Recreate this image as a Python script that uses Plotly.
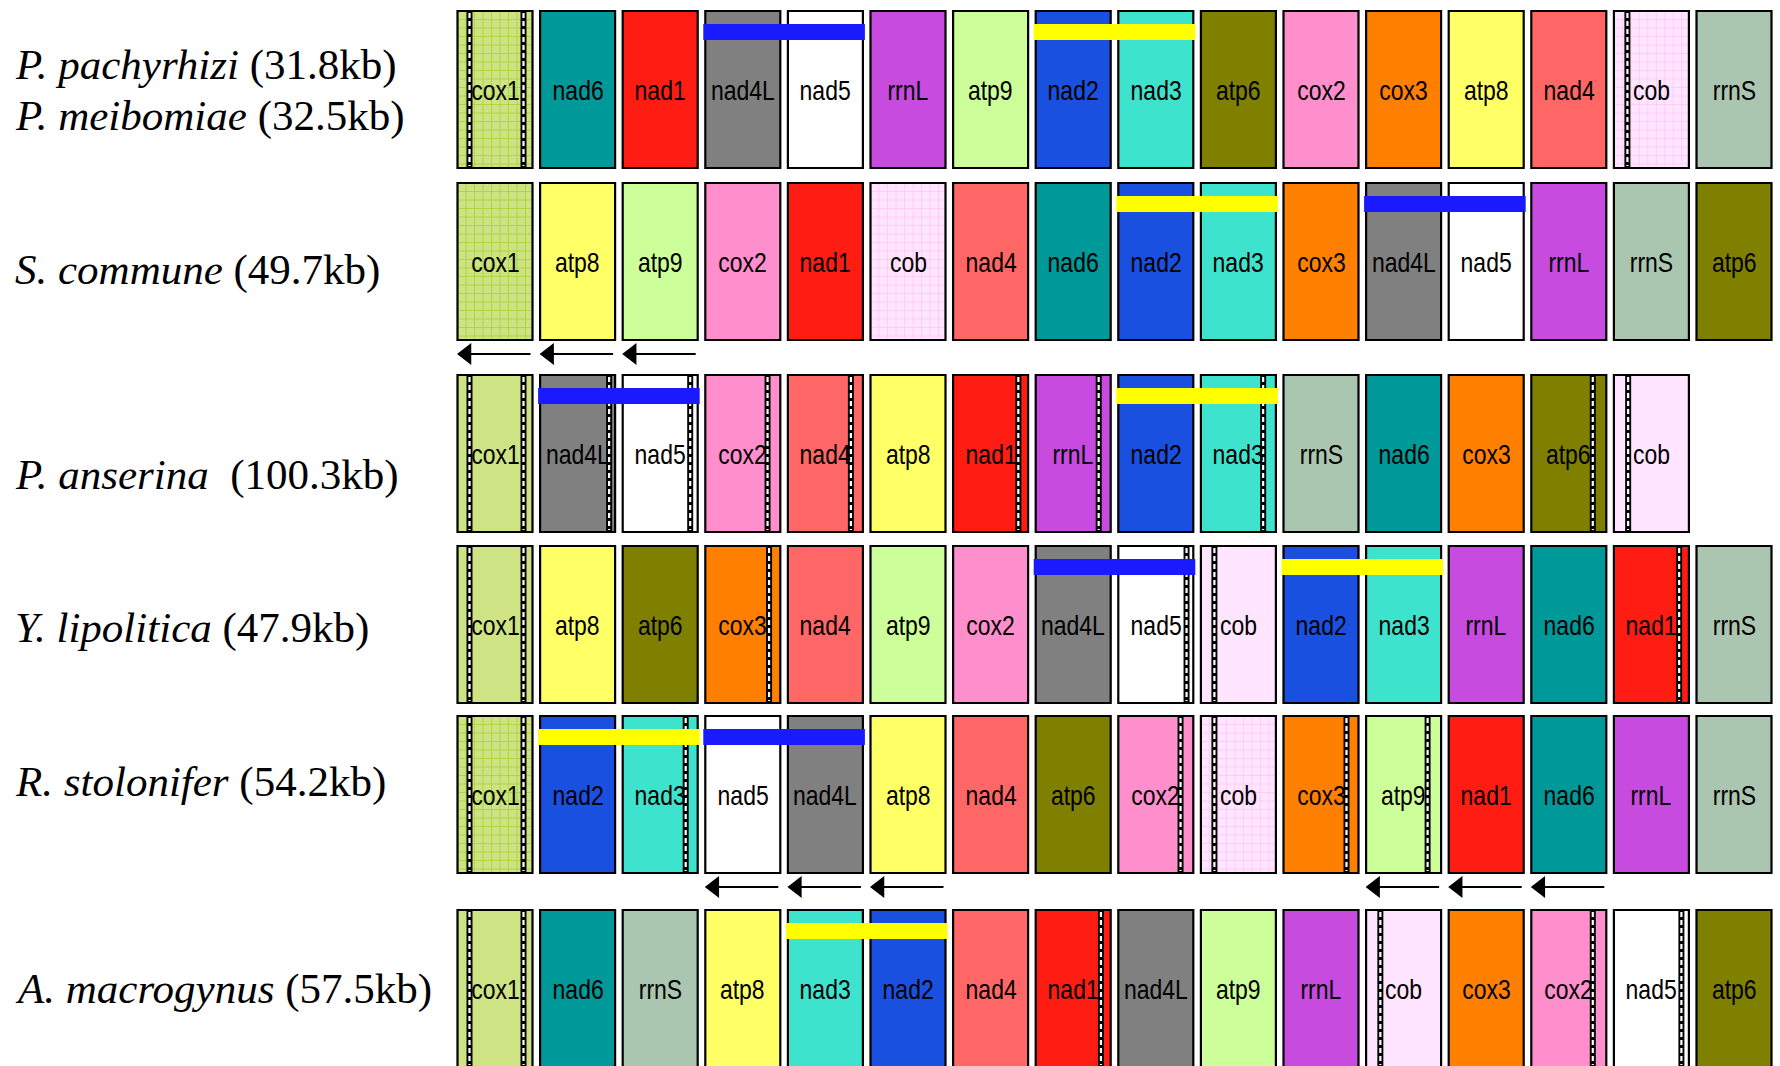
import json
import plotly.graph_objects as go

# ---------------- data ----------------
SPECIES = ["P. pachyrhizi", "P. meibomiae", "S. commune", "P. anserina",
           "Y. lipolitica", "R. stolonifer", "A. macrogynus"]
GENOME_SIZE = ["31.8kb", "32.5kb", "49.7kb", "100.3kb", "47.9kb", "54.2kb", "57.5kb"]

ORDER_PHAKOPSORA = ["cox1", "nad6", "nad1", "nad4L", "nad5", "rrnL", "atp9", "nad2",
                    "nad3", "atp6", "cox2", "cox3", "atp8", "nad4", "cob", "rrnS"]
ORDER_SCHIZO = ["cox1", "atp8", "atp9", "cox2", "nad1", "cob", "nad4", "nad6",
                "nad2", "nad3", "cox3", "nad4L", "nad5", "rrnL", "rrnS", "atp6"]
ORDER_PODOSPORA = ["cox1", "nad4L", "nad5", "cox2", "nad4", "atp8", "nad1", "rrnL",
                   "nad2", "nad3", "rrnS", "nad6", "cox3", "atp6", "cob"]
ORDER_YARROWIA = ["cox1", "atp8", "atp6", "cox3", "nad4", "atp9", "cox2", "nad4L",
                  "nad5", "cob", "nad2", "nad3", "rrnL", "nad6", "nad1", "rrnS"]
ORDER_RHIZOPUS = ["cox1", "nad2", "nad3", "nad5", "nad4L", "atp8", "nad4", "atp6",
                  "cox2", "cob", "cox3", "atp9", "nad1", "nad6", "rrnL", "rrnS"]
ORDER_ALLOMYCES = ["cox1", "nad6", "rrnS", "atp8", "nad3", "nad2", "nad4", "nad1",
                   "nad4L", "atp9", "rrnL", "cob", "cox3", "cox2", "nad5", "atp6"]
GENE_ORDERS = [ORDER_PHAKOPSORA, ORDER_SCHIZO, ORDER_PODOSPORA,
               ORDER_YARROWIA, ORDER_RHIZOPUS, ORDER_ALLOMYCES]

# intron positions: row -> {slot: [relative positions within gene]}
INTRONS = [
    {0: [0.16, 0.88], 14: [0.18]},
    {},
    {0: [0.16, 0.88], 1: [0.92], 2: [0.90], 3: [0.83], 4: [0.84], 6: [0.87],
     7: [0.84], 9: [0.83], 13: [0.82], 14: [0.19]},
    {0: [0.16, 0.88], 3: [0.85], 8: [0.91], 9: [0.18], 14: [0.87]},
    {0: [0.16, 0.88], 2: [0.84], 8: [0.83], 9: [0.18], 10: [0.84], 11: [0.82]},
    {0: [0.16, 0.88], 7: [0.87], 11: [0.19], 13: [0.82], 14: [0.90]},
]
# rows in which cox1 / cob carry the grid pattern
PATTERN_ROWS = [0, 1, 4]
# linked gene pairs: (row, first slot, kind)
LINKED = [(0, 3, "nad4L-nad5"), (0, 7, "nad2-nad3"),
          (1, 8, "nad2-nad3"), (1, 11, "nad4L-nad5"),
          (2, 1, "nad4L-nad5"), (2, 8, "nad2-nad3"),
          (3, 7, "nad4L-nad5"), (3, 10, "nad2-nad3"),
          (4, 1, "nad2-nad3"), (4, 3, "nad4L-nad5"),
          (5, 4, "nad2-nad3")]
# genes on the opposite strand: (row, slot)
REVERSE = [(1, 0), (1, 1), (1, 2), (4, 3), (4, 4), (4, 5), (4, 11), (4, 12), (4, 13)]

# ---------------- styles / layout ----------------
GENE_COLORS = {
    "cox1": "#CDE384", "nad6": "#009999", "nad1": "#FF1C12", "nad4L": "#808080",
    "nad5": "#FFFFFF", "rrnL": "#C84BE0", "atp9": "#CCFF99", "nad2": "#1A50E0",
    "nad3": "#3EE3CD", "atp6": "#808000", "cox2": "#FF8FCC", "cox3": "#FF8000",
    "atp8": "#FFFF66", "nad4": "#FF6666", "cob": "#FFE5FF", "rrnS": "#AAC6B0",
}
GRID_COLORS = {"cox1": "#B0D640", "cob": "#FFCCF6"}
LINK_COLORS = {"nad4L-nad5": "#1A1AFF", "nad2-nad3": "#FFFF00"}

W, H = 1780, 1066
X_CENTER0 = 495.0     # pixel center of slot 0
PITCH = 82.6          # pixels per slot
HW = 37.5 / PITCH     # half box width in slot units
PX = 1.0 / PITCH      # one pixel in slot units
ROW_TOP = [11, 183, 375, 546, 716, 910]
BOX_H = 157
LABEL_Y = [64.5, 115.5, 270, 474.5, 628, 782, 989]

fig = go.Figure()
shapes = []
annotations = []

for r, genes in enumerate(GENE_ORDERS):
    top = ROW_TOP[r]
    bot = top + BOX_H
    for i, g in enumerate(genes):
        x0, x1 = i - HW, i + HW
        shapes.append(dict(type="rect", xref="x", yref="y", x0=x0, x1=x1, y0=top, y1=bot,
                           fillcolor=GENE_COLORS[g], line=dict(width=0), layer="below"))
        if r in PATTERN_ROWS and g in GRID_COLORS:
            xs, ys = [], []
            step = 8.5
            p = step
            while p < 75:
                xx = x0 + p * PX
                xs += [xx, xx, None]
                ys += [top, bot, None]
                p += step
            q = step
            while q < BOX_H:
                xs += [x0, x1, None]
                ys += [top + q, top + q, None]
                q += step
            fig.add_trace(go.Scatter(x=xs, y=ys, mode="lines",
                                     line=dict(color=GRID_COLORS[g], width=1),
                                     hoverinfo="skip", showlegend=False))
        for f in INTRONS[r].get(i, []):
            xc = x0 + f * 2 * HW
            shapes.append(dict(type="rect", xref="x", yref="y",
                               x0=xc - 3 * PX, x1=xc + 3 * PX, y0=top, y1=bot,
                               fillcolor="black", line=dict(width=0), layer="above"))
            shapes.append(dict(type="line", xref="x", yref="y", x0=xc, x1=xc,
                               y0=top + 2, y1=bot - 2,
                               line=dict(color="white", width=2.2, dash="5px,3px"),
                               layer="above"))
        shapes.append(dict(type="rect", xref="x", yref="y", x0=x0, x1=x1, y0=top, y1=bot,
                           fillcolor="rgba(0,0,0,0)",
                           line=dict(color="black", width=2.2), layer="above"))
        annotations.append(dict(x=i, y=top + BOX_H / 2 + 1, xref="x", yref="y",
                                text=g, showarrow=False, xanchor="center", yanchor="middle",
                                font=dict(family="Liberation Sans, Arial, sans-serif",
                                          size=28, color="black")))

for r, s, kind in LINKED:
    top = ROW_TOP[r]
    shapes.append(dict(type="rect", xref="x", yref="y",
                       x0=s - HW - 2 * PX, x1=s + 1 + HW + 2 * PX,
                       y0=top + 13, y1=top + 29,
                       fillcolor=LINK_COLORS[kind], line=dict(width=0), layer="above"))

ax, ay, mx, my = [], [], [], []
for r, s in REVERSE:
    yy = ROW_TOP[r] + BOX_H + 14
    tip = s - HW + 1 * PX
    tail = s + HW - 2 * PX
    ax += [tip + 8 * PX, tail, None]
    ay += [yy, yy, None]
    mx.append(tip + 8 * PX)
    my.append(yy)
fig.add_trace(go.Scatter(x=ax, y=ay, mode="lines", line=dict(color="black", width=2.2),
                         hoverinfo="skip", showlegend=False))
fig.add_trace(go.Scatter(x=mx, y=my, mode="markers",
                         marker=dict(symbol="triangle-left", size=19, color="black",
                                     line=dict(width=0)),
                         hoverinfo="skip", showlegend=False))

for k, (sp, sz) in enumerate(zip(SPECIES, GENOME_SIZE)):
    sep = "&nbsp;&nbsp;" if sp == "P. anserina" else " "
    annotations.append(dict(x=13 / W, y=LABEL_Y[k], xref="paper", yref="y",
                            text=f"<i>{sp}</i>{sep}({sz})", showarrow=False,
                            xanchor="left", yanchor="middle",
                            font=dict(family="Liberation Serif, Times New Roman, serif",
                                      size=43, color="black")))

fig.update_layout(
    width=W, height=H, margin=dict(l=0, r=0, t=0, b=0),
    paper_bgcolor="white", plot_bgcolor="white",
    shapes=shapes, annotations=annotations, showlegend=False,
    xaxis=dict(range=[-X_CENTER0 / PITCH, (W - X_CENTER0) / PITCH], visible=False,
               fixedrange=True),
    yaxis=dict(range=[H, 0], visible=False, fixedrange=True),
)

gene_names = json.dumps(sorted(GENE_COLORS.keys()))
post = """
document.body.style.margin = '0';
document.body.style.overflow = 'hidden';
(function(){
  var gd = document.getElementById('{plot_id}');
  var genes = new Set(%s);
  function squeeze(){
    gd.querySelectorAll('text.annotation-text').forEach(function(t){
      if (!genes.has(t.textContent) || t.getAttribute('data-sq')) return;
      var L = t.getComputedTextLength();
      if (!L) return;
      t.setAttribute('lengthAdjust', 'spacingAndGlyphs');
      t.setAttribute('textLength', (L * 0.82).toFixed(2));
      t.setAttribute('data-sq', '1');
    });
  }
  squeeze();
  setTimeout(squeeze, 50);
})();
""" % gene_names

fig.write_html("out.html", post_script=post, config={"displayModeBar": False})
